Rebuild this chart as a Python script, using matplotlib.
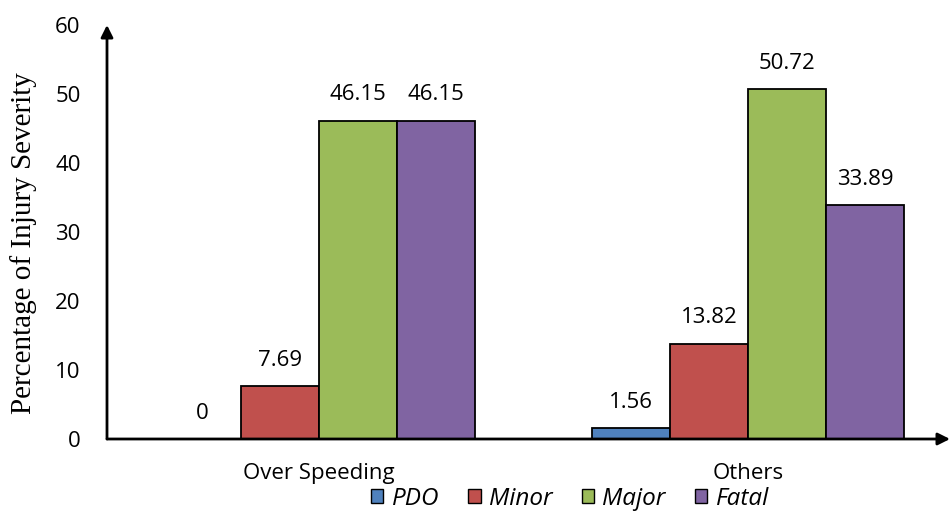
import matplotlib
matplotlib.use('Agg')
import matplotlib.pyplot as plt
import numpy as np

groups = ['Over Speeding', 'Others']
severity = ['PDO', 'Minor', 'Major', 'Fatal']
pdo = [0, 1.56]
minor = [7.69, 13.82]
major = [46.15, 50.72]
fatal = [46.15, 33.89]
colors = ['#4F81BD', '#C0504D', '#9BBB59', '#8064A2']
yticks = [0, 10, 20, 30, 40, 50, 60]

fig = plt.figure(figsize=(9.53, 5.12), dpi=100)
ax = fig.add_axes([107 / 953, 73 / 512, (950 - 107) / 953, (439 - 25) / 512])

x = np.arange(len(groups))
width = 0.182
series = [pdo, minor, major, fatal]
for i, (vals, name, col) in enumerate(zip(series, severity, colors)):
    pos = x + (i - 1.5) * width
    bars = ax.bar(pos, vals, width=width, color=col, edgecolor='black',
                  linewidth=1.3, label=name, zorder=2)
    for b, v in zip(bars, vals):
        ax.annotate(f'{v:g}', (b.get_x() + b.get_width() / 2, v),
                    xytext=(0, 11), textcoords='offset points',
                    ha='center', va='bottom', fontsize=16, family='Open Sans')

ax.set_xlim(-0.494, 1.471)
ax.set_ylim(0, 60)
ax.set_yticks(yticks)
ax.set_xticks(x)
ax.set_xticklabels(groups)
for lab in ax.get_xticklabels() + ax.get_yticklabels():
    lab.set_family('Open Sans')
    lab.set_fontsize(16)
ax.tick_params(axis='both', length=0)
ax.tick_params(axis='x', pad=17)
ax.tick_params(axis='y', pad=19)

for s in ax.spines.values():
    s.set_visible(False)

# axes drawn as arrows
ax.annotate('', xy=(0, 1.0), xytext=(0, 0), xycoords='axes fraction',
            arrowprops=dict(arrowstyle='-|>', color='black', lw=2,
                            mutation_scale=18, shrinkA=0, shrinkB=0))
ax.annotate('', xy=(1.0, 0), xytext=(0, 0), xycoords='axes fraction',
            arrowprops=dict(arrowstyle='-|>', color='black', lw=2,
                            mutation_scale=18, shrinkA=0, shrinkB=0))

ax.set_ylabel('Percentage of Injury Severity', family='Liberation Serif',
              fontsize=21)
ax.yaxis.set_label_coords(-0.083, 0.473)

leg = ax.legend(loc='center', bbox_to_anchor=(570 / 953, 13 / 512),
                bbox_transform=fig.transFigure, ncol=4, frameon=False,
                handlelength=0.5, handleheight=0.5, handletextpad=0.35,
                columnspacing=1.2, borderpad=0,
                prop={'family': 'Open Sans', 'style': 'italic', 'size': 17.5})
for h in leg.legend_handles:
    h.set_linewidth(1)

plt.savefig('out.png', dpi=100)
